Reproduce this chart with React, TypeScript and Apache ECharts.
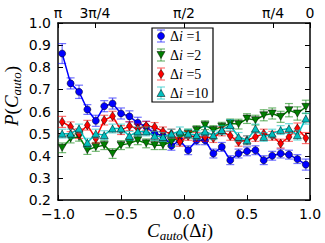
import React, { useEffect, useRef } from "react";
import * as echarts from "echarts";

const xs = [-0.967, -0.9, -0.833, -0.767, -0.7, -0.633, -0.567, -0.5, -0.433, -0.367, -0.3, -0.233, -0.167, -0.1, -0.033, 0.033, 0.1, 0.167, 0.233, 0.3, 0.367, 0.433, 0.5, 0.567, 0.633, 0.7, 0.767, 0.833, 0.9, 0.967];

const blue = [0.862, 0.727, 0.689, 0.609, 0.558, 0.624, 0.636, 0.591, 0.578, 0.549, 0.531, 0.5, 0.49, 0.445, 0.47, 0.425, 0.47, 0.47, 0.41, 0.44, 0.38, 0.41, 0.42, 0.425, 0.38, 0.4, 0.41, 0.405, 0.385, 0.36];
const blueErr = [0.045, 0.025, 0.03, 0.022, 0.025, 0.025, 0.025, 0.025, 0.025, 0.025, 0.025, 0.022, 0.02, 0.02, 0.02, 0.02, 0.02, 0.02, 0.02, 0.02, 0.02, 0.02, 0.02, 0.02, 0.02, 0.02, 0.02, 0.02, 0.02, 0.025];

const green = [0.436, 0.478, 0.486, 0.426, 0.44, 0.448, 0.41, 0.448, 0.456, 0.47, 0.456, 0.448, 0.448, 0.463, 0.486, 0.5, 0.516, 0.538, 0.516, 0.531, 0.546, 0.543, 0.568, 0.561, 0.583, 0.591, 0.576, 0.606, 0.591, 0.621];
const greenErr = [0.022, 0.02, 0.02, 0.02, 0.02, 0.02, 0.022, 0.02, 0.02, 0.02, 0.02, 0.02, 0.02, 0.02, 0.02, 0.02, 0.02, 0.02, 0.02, 0.02, 0.02, 0.022, 0.022, 0.022, 0.025, 0.025, 0.025, 0.03, 0.03, 0.03];

const red = [0.553, 0.531, 0.5, 0.538, 0.478, 0.561, 0.579, 0.516, 0.534, 0.523, 0.535, 0.53, 0.51, 0.5, 0.463, 0.49, 0.485, 0.485, 0.48, 0.51, 0.49, 0.463, 0.47, 0.485, 0.5, 0.49, 0.455, 0.485, 0.523, 0.48];
const redErr = [0.025, 0.022, 0.022, 0.022, 0.02, 0.022, 0.022, 0.02, 0.02, 0.02, 0.02, 0.02, 0.02, 0.02, 0.02, 0.02, 0.02, 0.02, 0.02, 0.02, 0.02, 0.02, 0.02, 0.02, 0.02, 0.02, 0.02, 0.02, 0.025, 0.025];

const cyan = [0.5, 0.5, 0.523, 0.459, 0.5, 0.493, 0.523, 0.523, 0.49, 0.51, 0.51, 0.49, 0.485, 0.5, 0.51, 0.5, 0.493, 0.51, 0.493, 0.516, 0.538, 0.485, 0.47, 0.523, 0.485, 0.5, 0.516, 0.523, 0.493, 0.568];
const cyanErr = [0.02, 0.02, 0.02, 0.02, 0.02, 0.02, 0.02, 0.02, 0.02, 0.02, 0.02, 0.02, 0.02, 0.02, 0.02, 0.02, 0.02, 0.02, 0.02, 0.02, 0.025, 0.02, 0.02, 0.02, 0.02, 0.02, 0.02, 0.022, 0.022, 0.025];

const legendLabels = ["1", "2", "5", "10"];
const colors = ["#0000ff", "#007f00", "#ff0000", "#00bfbf"];
const errColors = ["rgba(0,0,255,0.55)", "rgba(0,127,0,0.55)", "rgba(255,0,0,0.55)", "rgba(0,191,191,0.55)"];

const topTickValues = [-1, -0.7071, 0, 0.7071, 1];
const topTickLabels = ["π", "3π/4", "π/2", "π/4", "0"];

const DOWN_TRI = "path://M0,0 L10,0 L5,9 Z";
const UP_TRI = "path://M5,0 L10,9 L0,9 Z";
const DIAMOND = "path://M5,0 L9,7 L5,14 L1,7 Z";

export default function App() {
  const ref = useRef<HTMLDivElement>(null);
  useEffect(() => {
    if (!ref.current) return;
    const chart = echarts.init(ref.current, undefined, { renderer: "svg" });
    const vals = [blue, green, red, cyan];
    const errs = [blueErr, greenErr, redErr, cyanErr];
    const symbols = ["circle", DOWN_TRI, DIAMOND, UP_TRI];
    const sizes: any[] = [7, [8, 7], [6, 9], [8, 7]];

    const series: any[] = [];
    vals.forEach((v, k) => {
      series.push({
        type: "custom",
        xAxisIndex: 0,
        yAxisIndex: 0,
        z: 2 + k * 2,
        data: xs.map((x, i) => [x, v[i], errs[k][i]]),
        renderItem: (params: any, api: any) => {
          const x = api.value(0), y = api.value(1), e = api.value(2);
          const t = api.coord([x, y + e]);
          const b = api.coord([x, y - e]);
          const st = { stroke: errColors[k], lineWidth: 1.2 };
          return {
            type: "group",
            children: [
              { type: "line", shape: { x1: t[0], y1: t[1], x2: b[0], y2: b[1] }, style: st },
              { type: "line", shape: { x1: t[0] - 4, y1: t[1], x2: t[0] + 4, y2: t[1] }, style: st },
              { type: "line", shape: { x1: b[0] - 4, y1: b[1], x2: b[0] + 4, y2: b[1] }, style: st },
            ],
          };
        },
      });
      series.push({
        type: "line",
        xAxisIndex: 0,
        yAxisIndex: 0,
        z: 3 + k * 2,
        data: xs.map((x, i) => [x, v[i]]),
        symbol: symbols[k],
        symbolSize: sizes[k],
        showSymbol: true,
        lineStyle: { color: colors[k], width: 1.5 },
        itemStyle: { color: colors[k], borderColor: "#000", borderWidth: 0.5 },
      });
    });

    // legend graphic
    const lx = 152, ly = 28, lw = 61, lh = 74;
    const children: any[] = [
      { type: "rect", shape: { x: lx, y: ly, width: lw, height: lh }, style: { fill: "#fff", stroke: "#000", lineWidth: 1.2 } },
    ];
    legendLabels.forEach((lab, k) => {
      const cy = 36 + k * 19;
      const cx = 161;
      const st = { stroke: errColors[k], lineWidth: 1.2 };
      children.push({ type: "line", shape: { x1: cx, y1: cy - 6, x2: cx, y2: cy + 6 }, style: st });
      children.push({ type: "line", shape: { x1: cx - 4, y1: cy - 6, x2: cx + 4, y2: cy - 6 }, style: st });
      children.push({ type: "line", shape: { x1: cx - 4, y1: cy + 6, x2: cx + 4, y2: cy + 6 }, style: st });
      const ms = { fill: colors[k], stroke: "#000", lineWidth: 0.5 };
      if (k === 0) children.push({ type: "circle", shape: { cx, cy, r: 3.5 }, style: ms });
      if (k === 1) children.push({ type: "polygon", shape: { points: [[cx - 4, cy - 3.5], [cx + 4, cy - 3.5], [cx, cy + 3.5]] }, style: ms });
      if (k === 2) children.push({ type: "polygon", shape: { points: [[cx, cy - 4.5], [cx + 3, cy], [cx, cy + 4.5], [cx - 3, cy]] }, style: ms });
      if (k === 3) children.push({ type: "polygon", shape: { points: [[cx, cy - 3.5], [cx + 4, cy + 3.5], [cx - 4, cy + 3.5]] }, style: ms });
      children.push({
        type: "text",
        x: 170,
        y: cy,
        style: {
          text: "{a|Δ}{b|i}{a| =" + lab + "}",
          verticalAlign: "middle",
          rich: {
            a: { fontFamily: "Liberation Serif", fontSize: 14, fill: "#000" },
            b: { fontFamily: "Liberation Serif", fontStyle: "italic", fontSize: 14, fill: "#000" },
          },
        },
      });
    });

    const serif = "Liberation Serif";
    chart.setOption({
      animation: false,
      grid: { left: 58, right: 15, top: 23, bottom: 43 },
      xAxis: [
        {
          type: "value",
          position: "bottom",
          min: -1,
          max: 1,
          interval: 0.5,
          splitLine: { show: false },
          axisLine: { onZero: false, lineStyle: { color: "#000", width: 1.5 } },
          axisTick: { inside: true, length: 5, lineStyle: { color: "#000", width: 1 } },
          axisLabel: {
            color: "#000",
            fontFamily: "DejaVu Sans",
            fontSize: 14,
            lineHeight: 12,
            margin: 8,
            formatter: (v: number) => (v < 0 ? "\u2212" + Math.abs(v).toFixed(1) : v.toFixed(1)),
          },
        },
        {
          type: "value",
          position: "top",
          min: -1,
          max: 1,
          splitLine: { show: false },
          axisLine: { onZero: false, lineStyle: { color: "#000", width: 1.5 } },
          axisTick: { inside: true, length: 5, customValues: topTickValues, lineStyle: { color: "#000", width: 1 } },
          axisLabel: {
            color: "#000",
            fontFamily: "DejaVu Sans",
            fontSize: 14,
            margin: 3,
            customValues: topTickValues,
            formatter: (v: number) => {
              let best = 0;
              topTickValues.forEach((t, i) => {
                if (Math.abs(t - v) < Math.abs(topTickValues[best] - v)) best = i;
              });
              return topTickLabels[best];
            },
          },
        },
      ],
      yAxis: [
        {
          type: "value",
          position: "left",
          min: 0.2,
          max: 1.0,
          interval: 0.1,
          splitLine: { show: false },
          axisLine: { show: true, onZero: false, lineStyle: { color: "#000", width: 1.5 } },
          axisTick: { show: true, inside: true, length: 5, lineStyle: { color: "#000", width: 1 } },
          axisLabel: { color: "#000", fontFamily: "DejaVu Sans", fontSize: 14, lineHeight: 12, margin: 7, formatter: (v: number) => v.toFixed(1) },
        },
        {
          type: "value",
          position: "right",
          min: 0.2,
          max: 1.0,
          interval: 0.1,
          splitLine: { show: false },
          axisLine: { show: true, onZero: false, lineStyle: { color: "#000", width: 1.5 } },
          axisTick: { show: true, inside: true, length: 5, lineStyle: { color: "#000", width: 1 } },
          axisLabel: { show: false },
        },
      ],
      series,
      graphic: [
        { type: "group", z: 100, children },
        {
          type: "text",
          x: 180,
          y: 230,
          style: {
            text: "{c|C}{s|auto}{n|(Δ}{c|i}{n|)}",
            align: "center",
            verticalAlign: "middle",
            rich: {
              c: { fontFamily: serif, fontStyle: "italic", fontSize: 19, fill: "#000", lineHeight: 24, verticalAlign: "middle" },
              n: { fontFamily: serif, fontSize: 19, fill: "#000", lineHeight: 24, verticalAlign: "middle" },
              s: { fontFamily: serif, fontStyle: "italic", fontSize: 13, fill: "#000", lineHeight: 13, verticalAlign: "bottom" },
            },
          },
        },
        {
          type: "text",
          x: 11,
          y: 96,
          rotation: Math.PI / 2,
          style: {
            text: "{c|P}{n|(}{c|C}{s|auto}{n|)}",
            align: "center",
            verticalAlign: "middle",
            rich: {
              c: { fontFamily: serif, fontStyle: "italic", fontSize: 19, fill: "#000", lineHeight: 24, verticalAlign: "middle" },
              n: { fontFamily: serif, fontSize: 19, fill: "#000", lineHeight: 24, verticalAlign: "middle" },
              s: { fontFamily: serif, fontStyle: "italic", fontSize: 13, fill: "#000", lineHeight: 13, verticalAlign: "bottom" },
            },
          },
        },
      ],
    });
    return () => chart.dispose();
  }, []);
  return <div ref={ref} style={{ width: 325, height: 243, position: "absolute", left: 0, top: 0 }} />;
}
